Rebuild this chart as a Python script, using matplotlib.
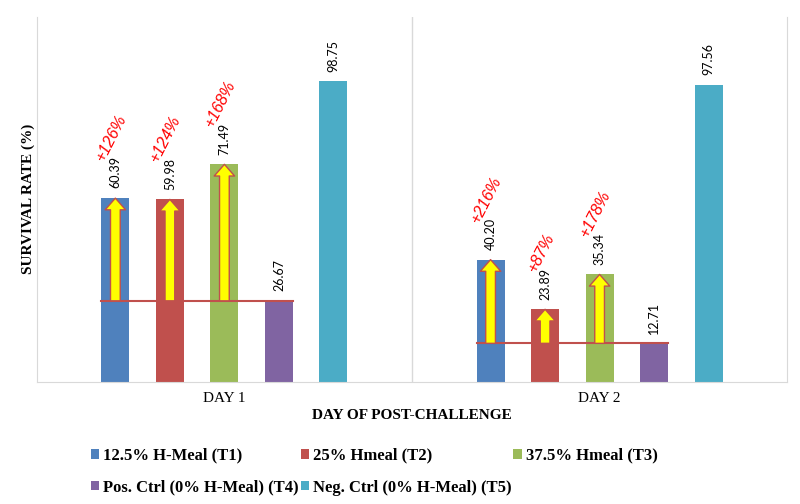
import numpy as np
from matplotlib import pyplot as plt

# --- Data ---
days = ['DAY 1', 'DAY 2']
series = ['12.5% H-Meal (T1)', '25% Hmeal (T2)', '37.5% Hmeal (T3)',
          'Pos. Ctrl (0% H-Meal) (T4)', 'Neg. Ctrl (0% H-Meal) (T5)']
t1 = [60.39, 40.20]
t2 = [59.98, 23.89]
t3 = [71.49, 35.34]
t4 = [26.67, 12.71]
t5 = [98.75, 97.56]
# increase vs positive control, for T1..T3
gain_t1 = ['+126%', '+216%']
gain_t2 = ['+124%', '+87%']
gain_t3 = ['+168%', '+178%']

colors = ['#4F81BD', '#C0504D', '#9BBB59', '#8064A2', '#4BACC6']

values = [t1, t2, t3, t4, t5]
gains = [gain_t1, gain_t2, gain_t3]

fig = plt.figure(figsize=(8, 5.04), dpi=100)
ax = fig.add_axes([0.046, 0.242, 0.938, 0.725])

x = np.arange(len(days))
step = 0.1453
width = 0.0747
offsets = (np.arange(5) - 2) * step

for i in range(5):
    ax.bar(x + offsets[i], values[i], width, color=colors[i], label=series[i], zorder=2)
    for xi, v in zip(x + offsets[i], values[i]):
        ax.annotate(f'{v:.2f}', (xi, v), xytext=(0, 7), textcoords='offset points',
                    rotation=90, ha='center', va='bottom', fontsize=9, family='Lato')

# baseline at positive control level and yellow arrows
for d in range(len(days)):
    base = t4[d]
    ax.plot([x[d] + offsets[0] - width / 2, x[d] + offsets[3] + width / 2], [base, base],
            color='#C0504D', lw=1.5, zorder=3)
    for i in range(3):
        top = values[i][d]
        xi = x[d] + offsets[i]
        ax.annotate('', xy=(xi, top), xytext=(xi, base),
                    arrowprops=dict(arrowstyle='simple,tail_width=0.5,head_width=1.05,head_length=0.6',
                                    fc='#FFFF00', ec='#C0504D', lw=1, mutation_scale=14,
                                    shrinkA=0, shrinkB=0), zorder=4)
        ax.annotate(gains[i][d], (xi, top), xytext=(-3, 25), textcoords='offset points',
                    rotation=63, ha='center', va='bottom', fontsize=11.5, color='#FF0000',
                    style='italic', family='Liberation Sans')

ax.set_xlim(-0.5, 1.5)
ax.set_ylim(0, 120)
ax.set_yticks([])
ax.set_xticks(x)
ax.set_xticklabels(days, family='Liberation Serif', fontsize=11)
ax.tick_params(axis='x', length=0, pad=7)
ax.axvline(0.5, color='#D9D9D9', lw=1, zorder=1)

for s in ['left', 'bottom', 'right']:
    ax.spines[s].set_color('#D9D9D9')
ax.spines['top'].set_visible(False)

ax.set_xlabel('DAY OF POST-CHALLENGE', family='Liberation Serif', fontweight='bold',
              fontsize=11, labelpad=3)
ax.set_ylabel('SURVIVAL RATE (%)', family='Liberation Serif', fontweight='bold',
              fontsize=11, labelpad=1)

# legend fills column by column, so reorder to read row by row
handles, labels = ax.get_legend_handles_labels()
order = [0, 3, 1, 4, 2]
fig.legend([handles[k] for k in order], [labels[k] for k in order],
           loc='upper left', bbox_to_anchor=(0.103, 0.128), ncol=3, borderpad=0,
           frameon=False, prop={'family': 'Liberation Serif', 'weight': 'bold', 'size': 12},
           handlelength=0.5, handleheight=0.5, handletextpad=0.25, columnspacing=0.1,
           labelspacing=0.95)

fig.savefig('out.png', dpi=100)
